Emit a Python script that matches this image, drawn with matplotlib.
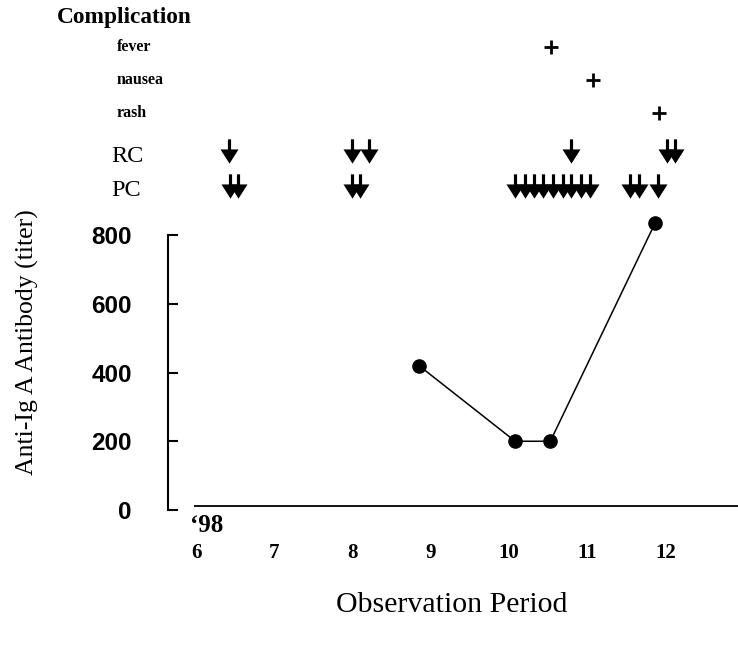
import matplotlib.pyplot as plt
from matplotlib.path import Path

# antibody titer measurements (month of 1998, titer)
titer_month = [8.85, 10.08, 10.53, 11.87]
titer_value = [420, 200, 200, 835]

# treatment arrows
rc_months = [6.42, 7.99, 8.21, 10.80, 12.02, 12.12]
pc_months = [6.43, 6.54, 7.99, 8.10,
             10.08, 10.20, 10.32, 10.44, 10.56, 10.69, 10.80, 10.92, 11.04,
             11.55, 11.66, 11.91]

# complications
complications = ["fever", "nausea", "rash"]
complication_month = [10.54, 11.08, 11.92]

month_ticks = [6, 7, 8, 9, 10, 11, 12]
y_ticks = [0, 200, 400, 600, 800]

W, H = 738, 648
serif = "Liberation Serif"
sans = "Liberation Sans"

fig = plt.figure(figsize=(W / 100, H / 100), dpi=100)
ax = fig.add_axes([168 / W, 1 - 510 / H, 1 - 168 / W, 275 / H])

ax.set_xlim(5.64, 12.93)
ax.set_ylim(0, 800)

ax.plot(titer_month, titer_value, color="black", lw=1.1, marker="o",
        markersize=9.5, clip_on=False, zorder=3)

# baseline line drawn a bit above zero like the original
ax.hlines(12, 5.97, 12.93, color="black", lw=1.3, clip_on=False)

for s in ["top", "right", "bottom"]:
    ax.spines[s].set_visible(False)
ax.spines["left"].set_linewidth(1.5)

ax.set_yticks(y_ticks)
ax.set_yticklabels([str(v) for v in y_ticks], fontfamily=sans,
                   fontweight="bold", fontsize=17.5)
ax.tick_params(axis="y", direction="in", length=7.5, width=1.5, pad=26)

ax.set_xticks(month_ticks)
ax.set_xticklabels([str(m) for m in month_ticks], fontfamily=serif,
                   fontweight="bold", fontsize=15)
ax.tick_params(axis="x", length=0, pad=24)

fig.text(190 / W, 1 - 526 / H, "\u201898", fontfamily=serif,
         fontweight="bold", fontsize=18, va="center", ha="left")

fig.text(27 / W, 1 - 342 / H, "Anti-Ig A Antibody (titer)", fontfamily=serif,
         fontsize=18.5, rotation=90, va="center", ha="center")
fig.text(452 / W, 1 - 605 / H, "Observation Period", fontfamily=serif,
         fontsize=21.5, va="center", ha="center")

# arrow marker
arrow = Path([(-0.13, 1), (0.13, 1), (0.13, 0.17), (0.74, 0.17),
              (0, -1), (-0.74, 0.17), (-0.13, 0.17), (-0.13, 1)],
             [Path.MOVETO] + [Path.LINETO] * 6 + [Path.CLOSEPOLY])

tr = ax.get_xaxis_transform()
ax.plot(rc_months, [(510 - 151) / 275] * len(rc_months), ls="none",
        marker=arrow, markersize=17.5, color="black", mew=0,
        transform=tr, clip_on=False)
ax.plot(pc_months, [(510 - 186) / 275] * len(pc_months), ls="none",
        marker=arrow, markersize=17.5, color="black", mew=0,
        transform=tr, clip_on=False)

fig.text(111 / W, 1 - 156 / H, "RC", fontfamily=serif, fontsize=17.5,
         va="center", ha="left")
fig.text(111 / W, 1 - 190 / H, "PC", fontfamily=serif, fontsize=17.5,
         va="center", ha="left")

# complication rows
fig.text(57 / W, 1 - 18 / H, "Complication", fontfamily=serif,
         fontweight="bold", fontsize=16.8, va="center", ha="left")
row_px = [47, 80, 113]
for name, m, py in zip(complications, complication_month, row_px):
    fig.text(117 / W, 1 - py / H, name, fontfamily=serif,
             fontweight="bold", fontsize=11.5, va="center", ha="left")
    ax.plot([m], [(510 - py) / 275], ls="none", marker="+", markersize=10,
            mew=2, color="black", transform=tr, clip_on=False)

fig.savefig("out.png", dpi=100)
